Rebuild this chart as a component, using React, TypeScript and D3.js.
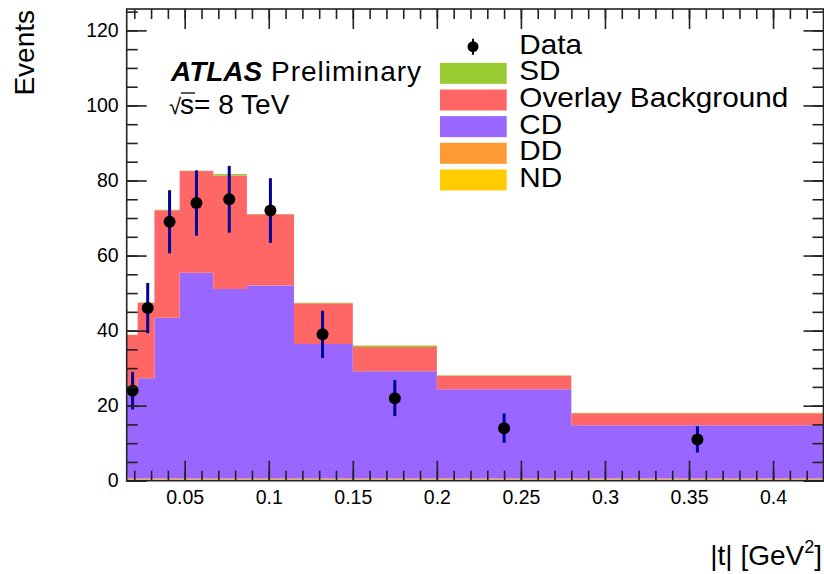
import { useEffect, useRef } from "react";
import * as d3 from "d3";

const width = 824;
const height = 574;
const frame = { left: 126.7, right: 823.5, top: 9, bottom: 480.7 };
const font = "'Liberation Sans', Arial, Helvetica, sans-serif";

// |t| bin edges [GeV^2]
const binEdges = [0.0155, 0.022, 0.032, 0.047, 0.067, 0.087, 0.115, 0.15, 0.2, 0.28, 0.43];

// MC contributions per bin (stacked bottom to top: ND, DD, CD, Overlay, SD)
const ndEvents = [0.3, 0.3, 0.3, 0.3, 0.3, 0.3, 0.3, 0.3, 0.3, 0.3];
const ddEvents = [0.3, 0.3, 0.3, 0.3, 0.3, 0.3, 0.3, 0.3, 0.3, 0.3];
const cdEvents = [22.2, 26.7, 42.8, 54.8, 50.5, 51.4, 35.8, 28.6, 23.8, 14.2];
const overlayEvents = [16.0, 20.1, 28.7, 27.1, 30.2, 19.0, 10.9, 6.4, 3.6, 3.2];
const sdEvents = [0.1, 0.1, 0.1, 0.1, 0.4, 0.1, 0.1, 0.4, 0.1, 0.1];

// measured data points
const dataT = [0.019, 0.028, 0.041, 0.057, 0.0765, 0.101, 0.132, 0.175, 0.24, 0.355];
const dataEvents = [24, 46, 69, 74, 75, 72, 39, 22, 14, 11];
const dataErrors = [5.0, 6.7, 8.4, 8.7, 8.9, 8.6, 6.3, 4.8, 3.9, 3.5];

const xTicks = [0.05, 0.1, 0.15, 0.2, 0.25, 0.3, 0.35, 0.4];
const yTicks = [0, 20, 40, 60, 80, 100, 120];

const seriesKeys = ["nd", "dd", "cd", "overlay", "sd"] as const;
type SeriesKey = (typeof seriesKeys)[number];

const seriesColor: Record<SeriesKey, string> = {
  nd: "#ffcc00",
  dd: "#ff9933",
  cd: "#9966ff",
  overlay: "#ff6666",
  sd: "#99cc33",
};

const legendKeys = ["data", "sd", "overlay", "cd", "dd", "nd"] as const;
const legendLabels = ["Data", "SD", "Overlay Background", "CD", "DD", "ND"];

type BinRow = Record<SeriesKey, number> & { x0: number };

export default function App() {
  const svgRef = useRef<SVGSVGElement | null>(null);

  useEffect(() => {
    if (!svgRef.current) return;
    const svg = d3.select(svgRef.current);
    svg.selectAll("*").remove();

    const x = d3.scaleLinear().domain([0.0155, 0.43]).range([frame.left, frame.right]);
    const y = d3.scaleLinear().domain([0, 125.7]).range([frame.bottom, frame.top]);

    const rows: BinRow[] = binEdges.slice(0, -1).map((e, i) => ({
      x0: e,
      nd: ndEvents[i],
      dd: ddEvents[i],
      cd: cdEvents[i],
      overlay: overlayEvents[i],
      sd: sdEvents[i],
    }));

    const stacked = d3.stack<BinRow>().keys([...seriesKeys])(rows);

    const area = d3
      .area<{ x: number; y0: number; y1: number }>()
      .x((d) => x(d.x))
      .y0((d) => y(d.y0))
      .y1((d) => y(d.y1))
      .curve(d3.curveStepAfter);

    // stacked histogram
    const hist = svg.append("g");
    stacked.forEach((layer) => {
      const pts = layer.map((p) => ({ x: p.data.x0, y0: p[0], y1: p[1] }));
      const last = pts[pts.length - 1];
      pts.push({ x: binEdges[binEdges.length - 1], y0: last.y0, y1: last.y1 });
      hist
        .append("path")
        .attr("d", area(pts))
        .attr("fill", seriesColor[layer.key as SeriesKey]);
    });

    // data points with error bars
    const pts = svg.append("g");
    dataT.forEach((t, i) => {
      pts
        .append("line")
        .attr("x1", x(t))
        .attr("x2", x(t))
        .attr("y1", y(dataEvents[i] - dataErrors[i]))
        .attr("y2", y(dataEvents[i] + dataErrors[i]))
        .attr("stroke", "#000099")
        .attr("stroke-width", 3);
      pts
        .append("circle")
        .attr("cx", x(t))
        .attr("cy", y(dataEvents[i]))
        .attr("r", 6)
        .attr("fill", "#000");
    });

    // axes, ROOT style ticks pointing inward
    const tickStroke = (g: d3.Selection<SVGGElement, unknown, null, undefined>) => {
      g.select(".domain").remove();
      g.selectAll("line").attr("stroke", "#222").attr("stroke-width", 1.6);
      g.selectAll("text")
        .attr("fill", "#000")
        .style("font-family", font)
        .style("font-size", "19.5px");
    };

    const xMinor = d3.range(2, 43).map((v) => v / 100);
    const yMinor = d3.range(0, 126, 5);

    const bottom = svg.append("g").attr("transform", `translate(0,${frame.bottom})`);
    bottom
      .append("g")
      .call(d3.axisBottom(x).tickValues(xMinor).tickSize(-10).tickFormat(() => ""))
      .call(tickStroke);
    bottom
      .append("g")
      .call(
        d3
          .axisBottom(x)
          .tickValues(xTicks)
          .tickSize(-20)
          .tickPadding(9)
          .tickFormat((d) => String(+(+d).toFixed(2))),
      )
      .call(tickStroke);

    const top = svg.append("g").attr("transform", `translate(0,${frame.top})`);
    top
      .append("g")
      .call(d3.axisTop(x).tickValues(xMinor).tickSize(-10).tickFormat(() => ""))
      .call(tickStroke);
    top
      .append("g")
      .call(d3.axisTop(x).tickValues(xTicks).tickSize(-20).tickFormat(() => ""))
      .call(tickStroke);

    const left = svg.append("g").attr("transform", `translate(${frame.left},0)`);
    left
      .append("g")
      .call(d3.axisLeft(y).tickValues(yMinor).tickSize(-11).tickFormat(() => ""))
      .call(tickStroke);
    left
      .append("g")
      .call(d3.axisLeft(y).tickValues(yTicks).tickSize(-20).tickPadding(8))
      .call(tickStroke);

    const right = svg.append("g").attr("transform", `translate(${frame.right},0)`);
    right
      .append("g")
      .call(d3.axisRight(y).tickValues(yMinor).tickSize(-11).tickFormat(() => ""))
      .call(tickStroke);
    right
      .append("g")
      .call(d3.axisRight(y).tickValues(yTicks).tickSize(-20).tickFormat(() => ""))
      .call(tickStroke);

    // frame
    svg
      .append("rect")
      .attr("x", frame.left)
      .attr("y", frame.top)
      .attr("width", frame.right - frame.left)
      .attr("height", frame.bottom - frame.top)
      .attr("fill", "none")
      .attr("stroke", "#222")
      .attr("stroke-width", 1.6);

    // axis titles
    svg
      .append("text")
      .attr("transform", "translate(33.5,10) rotate(-90)")
      .attr("text-anchor", "end")
      .style("font-family", font)
      .style("font-size", "28px")
      .text("Events");

    const xt = svg
      .append("text")
      .attr("x", 822)
      .attr("y", 565)
      .attr("text-anchor", "end")
      .style("font-family", font)
      .style("font-size", "28px");
    xt.append("tspan").text("|t| [GeV");
    xt.append("tspan").attr("dy", -12).style("font-size", "18px").text("2");
    xt.append("tspan").attr("dy", 12).text("]");

    // ATLAS label
    const atlas = svg
      .append("text")
      .attr("x", 171)
      .attr("y", 81)
      .style("font-family", font)
      .style("font-size", "28px");
    atlas.append("tspan").style("font-weight", "700").style("font-style", "italic").text("ATLAS");
    atlas.append("tspan").style("letter-spacing", "1px").text(" Preliminary");

    const energy = svg
      .append("text")
      .attr("x", 169)
      .attr("y", 114)
      .style("font-family", font)
      .style("font-size", "28px");
    energy.append("tspan").style("font-size", "22px").text("√");
    energy.append("tspan").attr("dx", -1).text("s= 8 TeV");
    svg
      .append("line")
      .attr("x1", 181)
      .attr("x2", 195)
      .attr("y1", 93)
      .attr("y2", 93)
      .attr("stroke", "#000")
      .attr("stroke-width", 1.3);

    // legend
    const legend = svg
      .append("g")
      .selectAll<SVGGElement, string>("g")
      .data(legendKeys)
      .join("g")
      .attr("transform", (_, i) => `translate(440,${46.7 + i * 26.65})`);

    legend.each(function (key) {
      const g = d3.select(this);
      if (key === "data") {
        g.append("line")
          .attr("x1", 33)
          .attr("x2", 33)
          .attr("y1", -8)
          .attr("y2", 8)
          .attr("stroke", "#000")
          .attr("stroke-width", 2);
        g.append("circle").attr("cx", 33).attr("cy", 0).attr("r", 5.5).attr("fill", "#000");
      } else {
        g.append("rect")
          .attr("x", 0)
          .attr("y", -10.5)
          .attr("width", 66.7)
          .attr("height", 21)
          .attr("fill", seriesColor[key as SeriesKey]);
      }
    });

    legend
      .append("text")
      .attr("transform", "translate(79.3,7) scale(1.1,1)")
      .style("font-family", font)
      .style("font-size", "27px")
      .text((_, i) => legendLabels[i]);
  }, []);

  return (
    <svg
      ref={svgRef}
      width={width}
      height={height}
      viewBox={`0 0 ${width} ${height}`}
      style={{ position: "absolute", left: 0, top: 0, background: "#fff" }}
    />
  );
}
